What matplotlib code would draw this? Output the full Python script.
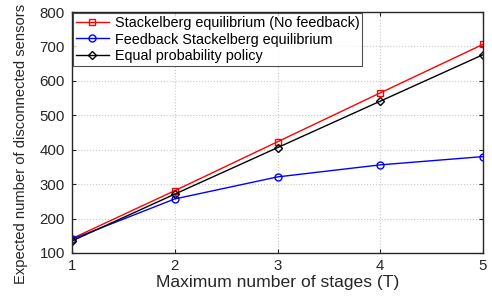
import matplotlib.pyplot as plt
import numpy as np

stages = [1, 2, 3, 4, 5]
stackelberg = [142, 281, 423, 565, 706]
feedback = [140, 257, 321, 356, 380]
equal_prob = [135, 271, 406, 541, 676]

plt.rcParams["font.family"] = ["Liberation Sans", "DejaVu Sans"]

fig = plt.figure(figsize=(4.92, 2.99), dpi=100)
ax = fig.add_axes([72 / 492, 1 - 253 / 299, (483 - 72) / 492, (253 - 12) / 299])

ax.plot(stages, stackelberg, "-s", color="red", mfc="none", ms=5, lw=1,
        label="Stackelberg equilibrium (No feedback)")
ax.plot(stages, feedback, "-o", color="blue", mfc="none", ms=5, lw=1,
        label="Feedback Stackelberg equilibrium")
ax.plot(stages, equal_prob, "-D", color="black", mfc="none", ms=4, lw=1,
        label="Equal probability policy")

ax.set_xlim(1, 5)
ax.set_ylim(100, 800)
ax.set_xticks(stages)
ax.set_yticks(np.arange(100, 801, 100))
ax.grid(True, linestyle=":", color="#c8c8c8", lw=0.8)
ax.tick_params(direction="in", top=True, right=True, labelsize=10.8, colors="#262626",
               length=3)
ax.tick_params(axis="y", pad=5)
ax.tick_params(axis="x", pad=4)
for s in ax.spines.values():
    s.set_color("#262626")
    s.set_linewidth(1.0)

ax.set_xlabel("Maximum number of stages (T)", fontsize=12.6, color="#262626", labelpad=2)
ax.set_ylabel("Expected number of disconnected sensors", fontsize=10.6, color="#262626")
# place the y label by hand, in figure pixels
ax.yaxis.set_label_coords(21 / 492, 1 - 144 / 299, transform=fig.transFigure)
ax.yaxis.label.set_verticalalignment("center")

leg = ax.legend(loc="upper left", fontsize=10.4, frameon=True, fancybox=False,
                edgecolor="#262626", borderaxespad=0.1, borderpad=0.15,
                labelspacing=0.2, handlelength=2.3, handletextpad=0.4)
leg.get_frame().set_linewidth(0.8)

fig.savefig("out.png", dpi=100)
